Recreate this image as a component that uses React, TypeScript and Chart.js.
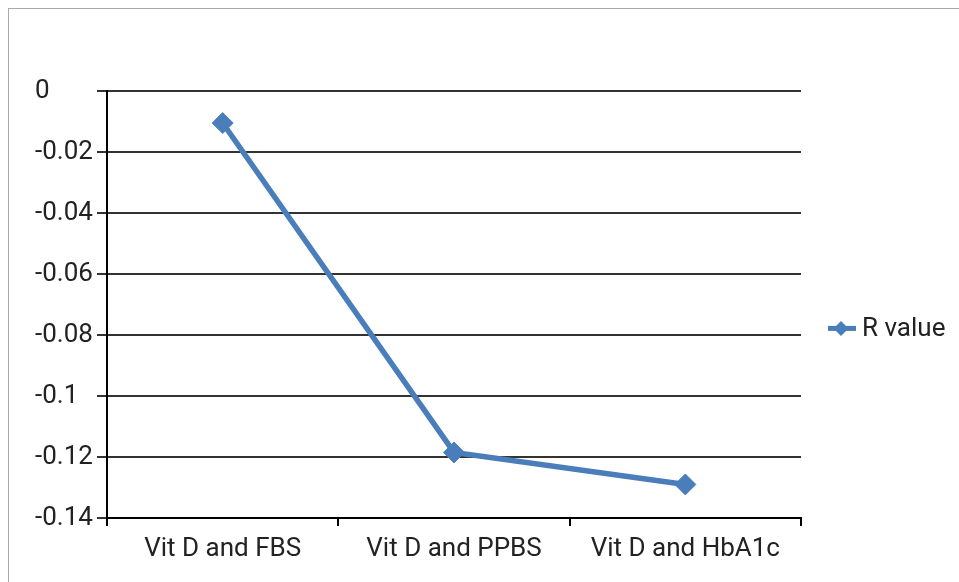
import React, { useEffect, useRef } from 'react';
import { Chart, registerables } from 'chart.js';
Chart.register(...registerables);

const categories = ['Vit D and FBS', 'Vit D and PPBS', 'Vit D and HbA1c'];
const rValues = [-0.0105, -0.1185, -0.129];
const seriesName = 'R value';
const yMin = -0.14;
const yMax = 0;
const yStep = 0.02;

const LINE_COLOR = '#4A7EBB';
const TEXT_COLOR = '#222222';
const FONT = 'Roboto';
const FONT_SIZE = 26;

export default function App() {
  const ref = useRef<HTMLCanvasElement>(null);
  useEffect(() => {
    if (!ref.current) return;
    const legendPlugin = {
      id: 'customLegend',
      afterDraw(chart: any) {
        const { ctx, chartArea } = chart;
        const ds = chart.data.datasets[0];
        const x0 = chartArea.right + 27;
        const y = chartArea.top + (chartArea.bottom - chartArea.top) * 0.556;
        ctx.save();
        ctx.strokeStyle = LINE_COLOR;
        ctx.lineWidth = 5;
        ctx.beginPath();
        ctx.moveTo(x0, y);
        ctx.lineTo(x0 + 28, y);
        ctx.stroke();
        const cx = x0 + 13;
        const r = 7.5;
        ctx.fillStyle = LINE_COLOR;
        ctx.beginPath();
        ctx.moveTo(cx - r, y);
        ctx.lineTo(cx, y - r);
        ctx.lineTo(cx + r, y);
        ctx.lineTo(cx, y + r);
        ctx.closePath();
        ctx.fill();
        ctx.fillStyle = TEXT_COLOR;
        ctx.font = `${FONT_SIZE}px ${FONT}`;
        ctx.textBaseline = 'middle';
        ctx.textAlign = 'left';
        ctx.fillText(ds.label, x0 + 34, y + 1);
        ctx.restore();
      },
    };
    const chart = new Chart(ref.current, {
      type: 'line',
      data: {
        labels: categories,
        datasets: [
          {
            label: seriesName,
            data: rValues,
            borderColor: LINE_COLOR,
            backgroundColor: LINE_COLOR,
            borderWidth: 5.5,
            pointStyle: 'rectRot',
            pointRadius: 10.5,
            pointBorderWidth: 1,
            pointBackgroundColor: LINE_COLOR,
            pointBorderColor: LINE_COLOR,
            tension: 0,
          },
        ],
      },
      options: {
        responsive: false,
        animation: false,
        layout: { padding: { left: 26, top: 82, right: 158, bottom: 0 } },
        plugins: { legend: { display: false }, tooltip: { enabled: false } },
        scales: {
          x: {
            type: 'category',
            offset: true,
            grid: {
              offset: true,
              drawOnChartArea: false,
              drawTicks: true,
              tickLength: 8,
              color: '#000',
              lineWidth: 2,
            },
            border: { display: true, color: '#000', width: 2 },
            ticks: {
              color: TEXT_COLOR,
              font: { family: FONT, size: FONT_SIZE },
              padding: 8,
              maxRotation: 0,
            },
            afterFit: (s: any) => {
              s.height = 64;
            },
          },
          y: {
            min: yMin,
            max: yMax,
            ticks: {
              stepSize: yStep,
              crossAlign: 'far',
              color: TEXT_COLOR,
              font: { family: FONT, size: FONT_SIZE },
              callback: (v: any) => String(Number(Number(v).toFixed(2))),
            },
            grid: { color: '#333', lineWidth: 2, tickLength: 10 },
            border: { display: true, color: '#000', width: 2 },
            afterFit: (s: any) => {
              s.width = 72;
            },
          },
        },
      },
      plugins: [legendPlugin],
    } as any);
    return () => chart.destroy();
  }, []);
  return (
    <div
      style={{
        position: 'fixed',
        left: 8,
        top: 8,
        width: 951,
        height: 574,
        borderTop: '1px solid #aaa',
        borderLeft: '1px solid #aaa',
        background: '#fff',
      }}
    >
      <canvas ref={ref} width={950} height={573} style={{ display: 'block' }} />
    </div>
  );
}
